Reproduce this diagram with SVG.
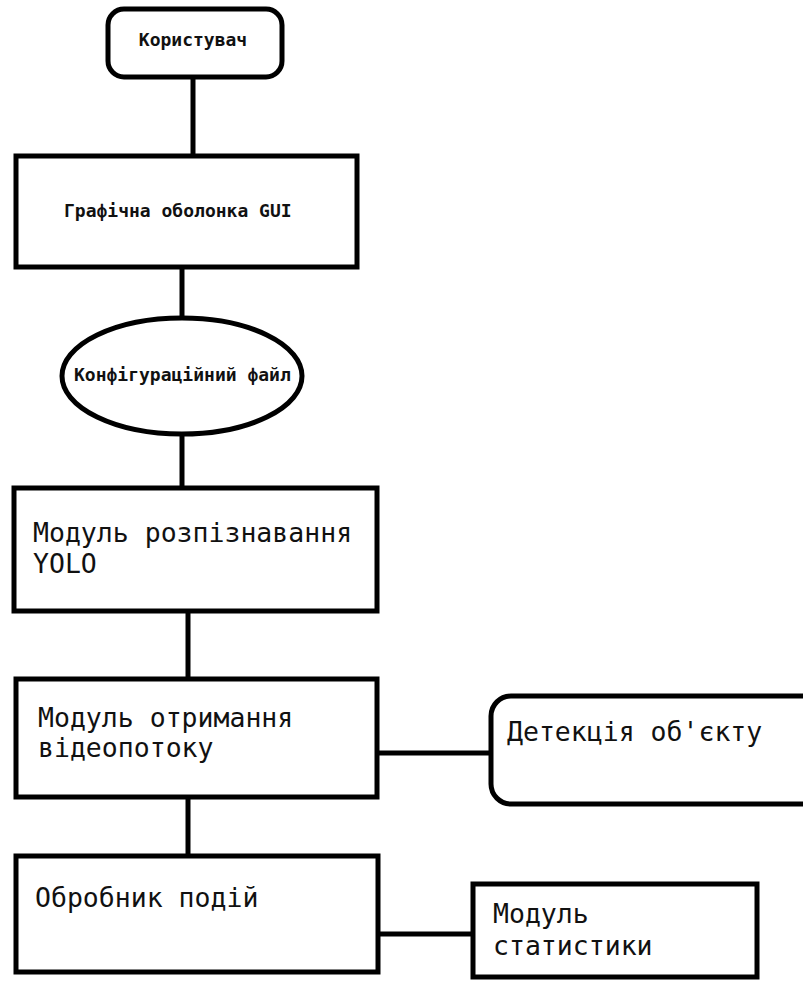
<svg xmlns="http://www.w3.org/2000/svg" width="803" height="981" viewBox="0 0 803 981">
<style>
.s{fill:#fff;stroke:#000;stroke-width:5}
.c{fill:none;stroke:#000;stroke-width:5}
.t{font-family:"DejaVu Sans Mono","Liberation Mono",monospace;fill:#111}
.sm{font-size:18px;font-weight:bold}
.lg{font-size:26.5px}
</style>
<rect width="803" height="981" fill="#fff"/>
<g id="connectors">
<line class="c" x1="193" y1="78" x2="193" y2="155"/>
<line class="c" x1="182" y1="268" x2="182" y2="318"/>
<line class="c" x1="182" y1="435" x2="182" y2="487"/>
<line class="c" x1="188" y1="612" x2="188" y2="678"/>
<line class="c" x1="378" y1="753" x2="490" y2="753"/>
<line class="c" x1="188" y1="798" x2="188" y2="855"/>
<line class="c" x1="379" y1="934" x2="472" y2="934"/>
</g>
<g id="user">
<rect class="s" x="108" y="9" width="174" height="68" rx="16"/>
<text class="t sm" x="193" y="46" text-anchor="middle">Користувач</text>
</g>
<g id="gui">
<rect class="s" x="16" y="156" width="341" height="111"/>
<text class="t sm" x="64" y="217">Графічна оболонка GUI</text>
</g>
<g id="config">
<ellipse class="s" cx="182" cy="376" rx="120" ry="58"/>
<text class="t sm" x="74" y="381">Конфігураційний файл</text>
</g>
<g id="yolo">
<rect class="s" x="14" y="488" width="363" height="123"/>
<text class="t lg" x="33" y="542">Модуль розпізнавання</text>
<text class="t lg" x="33" y="573">YOLO</text>
</g>
<g id="video">
<rect class="s" x="16" y="679" width="361" height="118"/>
<text class="t lg" x="38" y="727">Модуль отримання</text>
<text class="t lg" x="38" y="757">відеопотоку</text>
</g>
<g id="detect">
<rect class="s" x="491" y="696" width="330" height="108" rx="20"/>
<text class="t lg" x="507" y="741">Детекція об'єкту</text>
</g>
<g id="events">
<rect class="s" x="16" y="856" width="362" height="116"/>
<text class="t lg" x="35" y="907">Обробник подій</text>
</g>
<g id="stats">
<rect class="s" x="473" y="884" width="284" height="93"/>
<text class="t lg" x="493" y="923">Модуль</text>
<text class="t lg" x="493" y="955">статистики</text>
</g>
</svg>
